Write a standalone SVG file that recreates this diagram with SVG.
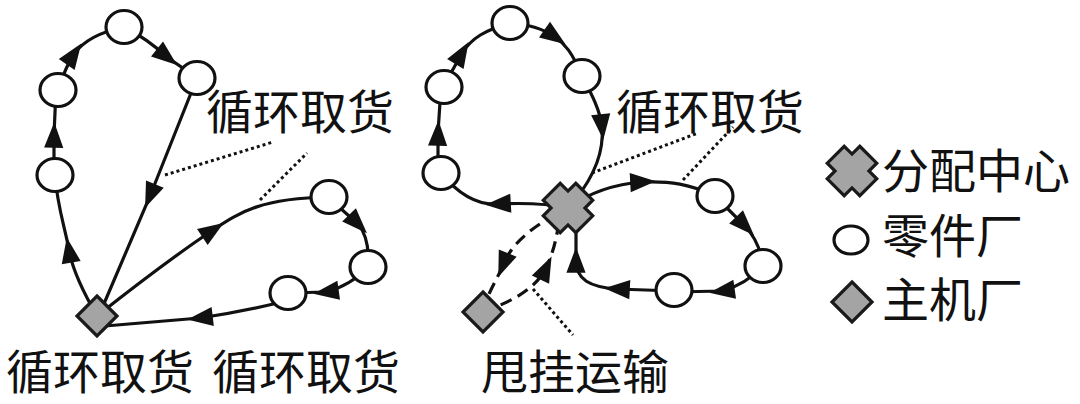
<svg xmlns="http://www.w3.org/2000/svg" width="1080" height="404" viewBox="0 0 1080 404">
<style>
.edge{fill:none;stroke:#111;stroke-width:3.2;marker-mid:url(#arr)}
.dash{fill:none;stroke:#111;stroke-width:3.2;stroke-dasharray:12 7;marker-mid:url(#arr)}
.dot{fill:none;stroke:#111;stroke-width:3;stroke-dasharray:3 3}
.part{fill:#fff;stroke:#111;stroke-width:3.2}
.hub{fill:#a4a4a4;stroke:#1a1a1a;stroke-width:3.2;stroke-linejoin:miter}
.lbl{font-family:"Noto Sans CJK SC","Noto Sans CJK JP",sans-serif;font-size:47px;fill:#111}
</style>
<defs>
<marker id="arr" markerUnits="strokeWidth" markerWidth="8" markerHeight="6" viewBox="0 0 24 18" refX="12" refY="9" orient="auto" overflow="visible">
<path d="M0,0 L24,9 L0,18 z" fill="#111" stroke="none"/>
</marker>
<polygon id="cross" points="-12,-23 12,-23 12,-12 23,-12 23,12 12,12 12,23 -12,23 -12,12 -23,12 -23,-12 -12,-12" transform="rotate(45)"/>
<polygon id="dia" points="0,-20 20,0 0,20 -20,0"/>
</defs>
<rect width="1080" height="404" fill="#fff"/>
<g id="connectors">
<path class="edge" d="M97,316 C82,290 72,268 69,250 C65,228 57,205 55,175"/>
<path class="edge" d="M54,175 L54,135 L56,90"/>
<path class="edge" d="M58,90 C63,75 68,63 74,54 C84,40 100,32 124,27"/>
<path class="edge" d="M124,27 C140,35 155,46 167,57 L197,78"/>
<path class="edge" d="M197,78 L150,196 L103,306"/>
<path class="edge" d="M97,316 C140,282 180,252 213,230 C240,212 262,198 329,197"/>
<path class="edge" d="M329,198 L358,224 Q370,238 368,267"/>
<path class="edge" d="M368,267 Q350,286 326,292 L288,293"/>
<path class="edge" d="M282,302 Q240,312 200,318 L105,326"/>
<path class="edge" d="M568,208 Q540,202 498,204 Q468,206 441,173"/>
<path class="edge" d="M438,173 L438,133 L441,87"/>
<path class="edge" d="M446,82 L462,53 C472,38 485,30 510,23"/>
<path class="edge" d="M510,24 C530,24 545,30 555,37 C565,44 572,52 582,76"/>
<path class="edge" d="M582,76 C592,95 600,110 602,127 C604,150 595,175 575,200"/>
<path class="edge" d="M568,208 C590,192 615,184 643,182 C670,181 690,184 715,196"/>
<path class="edge" d="M715,196 L745,226 Q760,242 763,266"/>
<path class="edge" d="M763,266 Q745,285 722,291 L674,292"/>
<path class="edge" d="M674,291 L617,289 C590,287 576,280 576,260 L576,215"/>
<path class="dash" d="M556,214 C535,226 512,242 503,265 C499,275 494,283 489,294"/>
<path class="dash" d="M483,312 C510,302 535,290 546,268 C552,255 555,245 558,228"/>
<path class="dot" d="M165,175 L273,142"/>
<path class="dot" d="M260,200 L307,153"/>
<path class="dot" d="M592,173 L698,133"/>
<path class="dot" d="M683,180 L733,127"/>
<path class="dot" d="M533,289 L573,335"/>
</g>
<g id="n-left-plant"><use href="#dia" class="hub" x="97" y="316"/></g>
<g id="n-l1"><ellipse class="part" cx="55" cy="175" rx="18" ry="16.5"/></g>
<g id="n-l2"><ellipse class="part" cx="58" cy="90" rx="18" ry="16.5"/></g>
<g id="n-l3"><ellipse class="part" cx="124" cy="27" rx="18" ry="16.5"/></g>
<g id="n-l4"><ellipse class="part" cx="197" cy="78" rx="18" ry="16.5"/></g>
<g id="n-l5"><ellipse class="part" cx="329" cy="197" rx="18" ry="16.5"/></g>
<g id="n-l6"><ellipse class="part" cx="368" cy="267" rx="18" ry="16.5"/></g>
<g id="n-l7"><ellipse class="part" cx="288" cy="293" rx="18" ry="16.5"/></g>
<g id="n-dc"><use href="#cross" class="hub" x="568" y="208"/></g>
<g id="n-right-plant"><use href="#dia" class="hub" x="483" y="312"/></g>
<g id="n-r1"><ellipse class="part" cx="441" cy="173" rx="18" ry="16.5"/></g>
<g id="n-r2"><ellipse class="part" cx="444" cy="87" rx="18" ry="16.5"/></g>
<g id="n-r3"><ellipse class="part" cx="510" cy="23" rx="18" ry="16.5"/></g>
<g id="n-r4"><ellipse class="part" cx="582" cy="76" rx="18" ry="16.5"/></g>
<g id="n-r5"><ellipse class="part" cx="715" cy="196" rx="18" ry="16.5"/></g>
<g id="n-r6"><ellipse class="part" cx="763" cy="266" rx="18" ry="16.5"/></g>
<g id="n-r7"><ellipse class="part" cx="674" cy="290" rx="18" ry="16.5"/></g>
<g id="labels">
<text class="lbl" x="206" y="129">循环取货</text>
<text class="lbl" x="6" y="389">循环取货</text>
<text class="lbl" x="212" y="389">循环取货</text>
<text class="lbl" x="616" y="129">循环取货</text>
<text class="lbl" x="481" y="389">甩挂运输</text>
</g>
<g id="legend">
<use href="#cross" class="hub" x="852" y="171"/>
<text class="lbl" x="882" y="188">分配中心</text>
<ellipse class="part" cx="851" cy="240" rx="17" ry="14"/>
<text class="lbl" x="882" y="253">零件厂</text>
<use href="#dia" class="hub" x="852" y="302"/>
<text class="lbl" x="882" y="317">主机厂</text>
</g>
</svg>
